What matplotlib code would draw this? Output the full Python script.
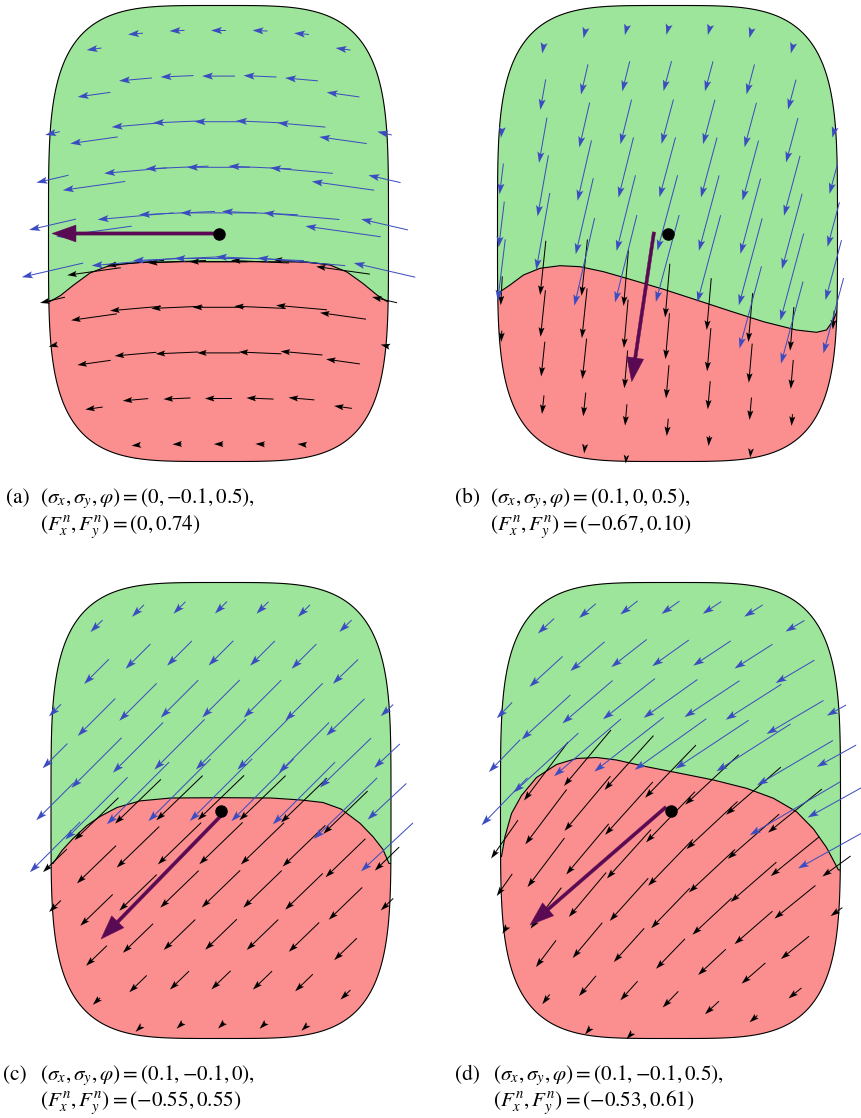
import numpy as np
import matplotlib
matplotlib.use("Agg")
import matplotlib.pyplot as plt
from matplotlib.patches import Polygon

plt.rcParams['mathtext.fontset'] = 'stix'
plt.rcParams['font.family'] = 'STIXGeneral'

W, H = 861, 1118

# ---------------- data ----------------
labels = ['(a)', '(b)', '(c)', '(d)']
param_vals = ['0,-0.1,0.5', '0.1,0,0.5', '0.1,-0.1,0', '0.1,-0.1,0.5']
force_vals = ['0,0.74', '-0.67,0.10', '-0.55,0.55', '-0.53,0.61']

# adhesion / sliding boundary (px offsets from patch centre, y pointing down)
bnd_a_x = [-168.5, -158, -145.5, -128.5, -111.5, -95, -78.5, -40, 0, 40, 88.5, 111.5, 128.5, 144.5, 158.5, 168.5]
bnd_a_y = [68, 62, 52, 39.5, 33, 30.5, 29, 28.2, 28.2, 28.2, 28.5, 31.5, 38.5, 50, 61.5, 68]
bnd_b_x = [-170, -157.5, -144, -127.5, -107.5, -87.5, -64, -37.5, -4, 29, 62.5, 96, 129, 149, 159, 166, 170]
bnd_b_y = [60, 51.5, 41.5, 34.8, 32.2, 33.2, 38.2, 45.8, 55.8, 66.5, 77.5, 88.2, 96.5, 98.8, 96.5, 86.5, 76.5]
bnd_c_x = [-168, -159, -148, -134, -121, -104, -81, -50, 0, 50, 80, 102, 120, 139, 152, 162, 168]
bnd_c_y = [53, 40, 28, 15, 6, -3, -9.6, -12.5, -12.8, -12.5, -10.5, -8, -1.5, 12.8, 26.2, 39, 53]
bnd_d_x = [-169, -165.5, -159, -149, -134, -114, -94, -74, -54, -24, 9.5, 43, 76, 103, 126, 143, 156, 168]
bnd_d_y = [46, 26, 3, -15, -33, -46, -52, -53, -50.5, -43.8, -37.2, -30.5, -22.2, -12.2, 1.2, 18.5, 37, 59.5]

# arrow grid columns (px offsets)
grid_cols = [-166, -124.5, -83, -41.5, 0, 41.5, 83, 124.5, 166]

# adhesion (blue) arrow lengths per row (from leading edge) and directions per column (deg, y down)
blue_len_a = [15, 33, 48, 63, 76, 88, 95]
blue_len_b = [9, 31, 46, 62, 78, 90, 85]
blue_len_c = [17, 35, 53, 71, 88, 100]
blue_len_d = [22, 45, 66, 88, 105, 118]
blue_ang_a = [167, 172, 175, 177.5, 180, 182.5, 185, 188, 193]
blue_ang_b = [97, 100, 103, 104, 105, 105, 105, 105, 105]
blue_ang_c = [135, 135, 135, 135, 135, 135, 135, 136, 137]
blue_ang_d = [134, 137.5, 139.5, 142, 144.5, 146.5, 147.5, 149.5, 151]

# sliding (black) arrows: magnitude vs distance to trailing edge, scale and direction per column
slide_dist = [0, 10, 20, 30, 60, 100, 150, 200, 250]
slide_mag = [6, 7, 10, 16, 26, 41, 51, 58, 62]
black_scale = [1.0, 1.0, 1.05, 1.18]
black_ang_a = [167, 172, 175, 177.5, 180, 182.5, 185, 188, 193]
black_ang_b = [93, 96, 96, 95, 95, 95, 95, 95, 94]
black_ang_c = [136, 136, 136, 136, 136, 136, 136, 136, 136]
black_ang_d = [125, 127, 130, 132, 134, 137, 139, 141, 144]

# resultant arrow (tail, head) and centre point
res_tail = [(0, 0), (-13.5, -1.5), (0.7, 4.5), (-4.5, -3.5)]
res_head = [(-166.5, 0), (-35.8, 148.2), (-120, 128.5), (-140.5, 114.5)]
centre_pt = [(0, 0), (0, 0), (0, 0), (0, 0)]

# ---------------- style / layout ----------------
GREEN = '#9de59a'
RED = '#fb8e8e'
BLUE = '#3b4cc0'
PURPLE = '#5a0a52'
centres = [(218.5, 233.5), (667.5, 233.5), (221, 810.5), (670.5, 810.5)]
A_HALF, B_HALF, NEXP = 170.0, 228.0, 4.0
ROW_STEP, ROW_OFF = 45.6, 25.0

bnd_x = [bnd_a_x, bnd_b_x, bnd_c_x, bnd_d_x]
bnd_y = [bnd_a_y, bnd_b_y, bnd_c_y, bnd_d_y]
blue_len = [blue_len_a, blue_len_b, blue_len_c, blue_len_d]
blue_ang = [blue_ang_a, blue_ang_b, blue_ang_c, blue_ang_d]
black_ang = [black_ang_a, black_ang_b, black_ang_c, black_ang_d]


def outline(m=800):
    t = np.linspace(0, 2 * np.pi, m)
    c, s = np.cos(t), np.sin(t)
    x = A_HALF * np.sign(c) * np.abs(c) ** (2 / NEXP)
    y = B_HALF * np.sign(s) * np.abs(s) ** (2 / NEXP)
    return np.column_stack([x, y])


def half_h(x):
    return B_HALF * max(0.0, 1 - abs(x / A_HALF) ** NEXP) ** (1 / NEXP)


fig = plt.figure(figsize=(W / 100, H / 100), dpi=100)

for i, (cx, cy) in enumerate(centres):
    ax = fig.add_axes([(cx - 215) / W, 1 - (cy + 235) / H, 430 / W, 470 / H])
    ax.set_xlim(-215, 215)
    ax.set_ylim(235, -235)
    ax.axis('off')
    ax.patch.set_alpha(0)

    verts = outline()
    red = Polygon(verts, closed=True, fc=RED, ec='none', zorder=1)
    ax.add_patch(red)

    bx = np.array(bnd_x[i], float)
    by = np.array(bnd_y[i], float)
    lx = np.concatenate([[bx[0] - 25], bx, [bx[-1] + 25]])
    ly = np.concatenate([[by[0]], by, [by[-1]]])
    gx = np.concatenate([lx, [lx[-1], lx[0]]])
    gy = np.concatenate([ly, [-300, -300]])
    green = Polygon(np.column_stack([gx, gy]), closed=True, fc=GREEN, ec='none', zorder=2)
    ax.add_patch(green)
    green.set_clip_path(red)
    ln, = ax.plot(lx, ly, color='k', lw=0.8, zorder=3)
    ln.set_clip_path(red)
    ax.add_patch(Polygon(verts, closed=True, fill=False, ec='k', lw=0.8, zorder=3))

    # arrow grids
    BX, BY, BU, BV = [], [], [], []
    KX, KY, KU, KV = [], [], [], []
    for j, xj in enumerate(grid_cols):
        top = -half_h(xj)
        bot = half_h(xj)
        yb = np.interp(xj, bx, by)
        k = 0
        while True:
            y = top + ROW_OFF + ROW_STEP * k
            if y >= yb or y >= bot:
                break
            L = blue_len[i][min(k, len(blue_len[i]) - 1)]
            th = np.deg2rad(blue_ang[i][j])
            BX.append(xj); BY.append(y); BU.append(L * np.cos(th)); BV.append(L * np.sin(th))
            k += 1
        k = 0
        while True:
            y = yb + ROW_STEP * k
            if y >= bot:
                break
            if y > top:
                L = black_scale[i] * np.interp(bot - y, slide_dist, slide_mag)
                th = np.deg2rad(black_ang[i][j])
                KX.append(xj); KY.append(y); KU.append(L * np.cos(th)); KV.append(L * np.sin(th))
            k += 1

    ax.quiver(KX, KY, KU, KV, angles='xy', scale_units='xy', scale=1, pivot='middle',
              units='dots', width=1.0, headwidth=6, headlength=9.5, headaxislength=8,
              minshaft=0.7, color='k', zorder=4)
    ax.quiver(BX, BY, BU, BV, angles='xy', scale_units='xy', scale=1, pivot='middle',
              units='dots', width=1.0, headwidth=7, headlength=11, headaxislength=9,
              minshaft=0.7, color=BLUE, zorder=5)

    tx, ty = res_tail[i]
    hx, hy = res_head[i]
    ax.arrow(tx, ty, hx - tx, hy - ty, width=3.2, head_width=17, head_length=24,
             length_includes_head=True, fc=PURPLE, ec=PURPLE, lw=0.3, zorder=6)
    ax.plot([centre_pt[i][0]], [centre_pt[i][1]], 'o', ms=8, color='k', zorder=7)

# captions
cap_pos = [(6, 40, 503.5, 530.5), (455, 490, 503.5, 530.5),
           (3, 40, 1080.5, 1107), (455, 493, 1080.5, 1107)]
FS = 15.2


def m(s):
    return s.replace('-', '{-}')


for i, (xl, xf, y1, y2) in enumerate(cap_pos):
    fig.text(xl / W, 1 - y1 / H, labels[i], fontsize=FS, ha='left', va='baseline')
    fig.text(xf / W, 1 - y1 / H, r'$(\sigma_x,\sigma_y,\varphi)=(' + m(param_vals[i]) + ')$,',
             fontsize=FS, ha='left', va='baseline')
    fig.text(xf / W, 1 - y2 / H, r'$(F^n_x,F^n_y)=(' + m(force_vals[i]) + ')$',
             fontsize=FS, ha='left', va='baseline')

fig.savefig('out.png', dpi=100)
